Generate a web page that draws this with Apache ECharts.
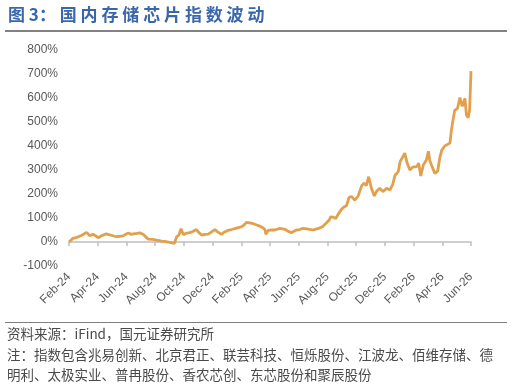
<!DOCTYPE html>
<html>
<head>
<meta charset="utf-8">
<script src="https://cdn.jsdelivr.net/npm/echarts@6/dist/echarts.min.js"></script>
<style>
html,body{margin:0;padding:0;background:#fff;}
#c{width:513px;height:387px;}
</style>
</head>
<body>
<div id="c"></div>
<script>
// ---- data ----
const titleText = '图 3： 国 内 存 储 芯 片 指 数 波 动';
const sourceText = '资料来源：iFind，国元证券研究所';
const noteLine1 = '注：指数包含兆易创新、北京君正、联芸科技、恒烁股份、江波龙、佰维存储、德';
const noteLine2 = '明利、太极实业、普冉股份、香农芯创、东芯股份和聚辰股份';

const xTickLabels = ['Feb-24','Apr-24','Jun-24','Aug-24','Oct-24','Dec-24','Feb-25','Apr-25','Jun-25','Aug-25','Oct-25','Dec-25','Feb-26','Apr-26','Jun-26'];
const yTicks = [-100, 0, 100, 200, 300, 400, 500, 600, 700, 800];

const dates = [
'2024-02-01','2024-02-05','2024-02-09','2024-02-15','2024-02-19','2024-02-27','2024-03-08','2024-03-15','2024-03-22','2024-03-28',
'2024-04-02','2024-04-09','2024-04-19','2024-04-26','2024-05-03','2024-05-10','2024-05-14','2024-05-20','2024-05-25','2024-06-05',
'2024-06-10','2024-06-15','2024-06-23','2024-06-29','2024-07-06','2024-07-10','2024-07-17','2024-07-21','2024-07-27','2024-08-04',
'2024-08-15','2024-08-26','2024-09-02','2024-09-11','2024-09-16','2024-09-21','2024-09-25','2024-09-30','2024-10-05','2024-10-14',
'2024-10-20','2024-10-28','2024-11-02','2024-11-08','2024-11-15','2024-11-22','2024-11-29','2024-12-06','2024-12-12','2024-12-20',
'2024-12-27','2025-01-03','2025-01-11','2025-01-22','2025-02-02','2025-02-06','2025-02-11','2025-02-18','2025-02-24','2025-03-03',
'2025-03-10','2025-03-16','2025-03-21','2025-03-23','2025-03-28','2025-04-05','2025-04-11','2025-04-22','2025-05-02','2025-05-08',
'2025-05-16','2025-05-27','2025-06-03','2025-06-10','2025-06-21','2025-07-01','2025-07-09','2025-07-15','2025-07-22','2025-07-26',
'2025-07-30','2025-08-05','2025-08-08','2025-08-13','2025-08-19','2025-08-24','2025-08-31','2025-09-05','2025-09-11','2025-09-16',
'2025-09-21','2025-09-28','2025-10-05','2025-10-13','2025-10-18','2025-10-23','2025-10-28','2025-11-03','2025-11-09','2025-11-14',
'2025-11-20','2025-11-27','2025-12-01','2025-12-05','2025-12-08','2025-12-12','2025-12-18','2025-12-23','2025-12-30','2026-01-03',
'2026-01-06','2026-01-13','2026-01-18','2026-01-24','2026-01-30','2026-02-07','2026-02-11','2026-02-15','2026-02-20','2026-02-26',
'2026-03-02','2026-03-05','2026-03-10','2026-03-16','2026-03-22','2026-03-27','2026-03-31','2026-04-06','2026-04-10','2026-04-17',
'2026-04-20','2026-04-24','2026-04-27','2026-05-03','2026-05-08','2026-05-13','2026-05-19','2026-05-22','2026-05-26','2026-05-29',
'2026-06-01'
];
const indexPct = [
0,5,15,18,22,28,40,26,32,25,
18,26,34,30,26,22,18,24,26,38,
32,34,36,38,32,26,12,15,11,8,
4,1,-2,-6,22,30,55,30,36,39,
44,52,40,29,32,33,42,52,42,32,
42,48,52,58,64,70,82,80,77,71,
66,60,53,32,48,50,50,57,53,46,
39,50,52,57,54,50,55,58,65,72,
80,92,105,104,98,115,135,145,152,185,
190,175,190,235,245,235,272,224,192,212,
224,210,203,224,230,217,240,278,293,335,
340,370,330,300,312,314,328,275,321,342,
378,340,314,286,295,355,383,400,397,412,
465,515,548,557,602,565,598,530,518,550,
712
];

// month offset from Feb-2024 (x scale unit = month)
function monthOffset(s) {
  const [y, m, d] = s.split('-').map(Number);
  const dim = new Date(y, m, 0).getDate();
  return (y - 2024) * 12 + (m - 2) + (d - 1) / dim;
}
const seriesData = dates.map((d, i) => [monthOffset(d), indexPct[i]]);

const chart = echarts.init(document.getElementById('c'), null, {renderer: 'canvas'});
const gray = '#595959';
const labelFont = 'Liberation Sans, Arial, sans-serif';
chart.setOption({
  animation: false,
  backgroundColor: '#ffffff',
  grid: {left: 69, right: 42, top: 50, bottom: 121, containLabel: false},
  xAxis: [
    {
      type: 'value', min: 0, max: 28, interval: 2, position: 'bottom',
      axisLine: {show: false, onZero: false},
      axisTick: {show: false},
      splitLine: {show: false},
      axisLabel: {
        rotate: 45, margin: 9, color: gray, fontSize: 12, fontFamily: labelFont,
        formatter: v => xTickLabels[Math.round(v / 2)] || ''
      }
    },
    {
      type: 'value', min: 0, max: 28, interval: 2, position: 'bottom',
      axisLine: {show: true, onZero: true, lineStyle: {color: '#BFBFBF', width: 1.5}},
      axisTick: {show: true, inside: false, length: 4, lineStyle: {color: '#BFBFBF', width: 1.5}},
      splitLine: {show: false},
      axisLabel: {show: false}
    }
  ],
  yAxis: {
    type: 'value', min: yTicks[0], max: yTicks[yTicks.length - 1], interval: 100,
    axisLine: {show: false}, axisTick: {show: false}, splitLine: {show: false},
    axisLabel: {color: gray, fontSize: 12, fontFamily: labelFont, margin: 11, formatter: '{value}%'}
  },
  series: [{
    type: 'line', xAxisIndex: 0, data: seriesData, showSymbol: false, smooth: false,
    lineStyle: {color: '#E2A04C', width: 2.8}, z: 3
  }],
  graphic: [
    {type: 'text', left: 8, top: 6, style: {text: titleText, fill: '#3A66AA', font: 'bold 17px "Noto Sans CJK SC", sans-serif'}},
    {type: 'line', shape: {x1: 5, y1: 31, x2: 507, y2: 31}, style: {stroke: '#595959', lineWidth: 1.5}},
    {type: 'line', shape: {x1: 5, y1: 322.5, x2: 507, y2: 322.5}, style: {stroke: '#7F7F7F', lineWidth: 1.2}},
    {type: 'text', left: 7, top: 327, style: {text: sourceText, fill: '#4A4A4A', font: '13.5px "Noto Sans CJK SC", sans-serif'}},
    {type: 'text', left: 7, top: 348, style: {text: noteLine1, fill: '#4A4A4A', font: '13.5px "Noto Sans CJK SC", sans-serif'}},
    {type: 'text', left: 7, top: 368, style: {text: noteLine2, fill: '#4A4A4A', font: '13.5px "Noto Sans CJK SC", sans-serif'}}
  ]
});
</script>
</body>
</html>
